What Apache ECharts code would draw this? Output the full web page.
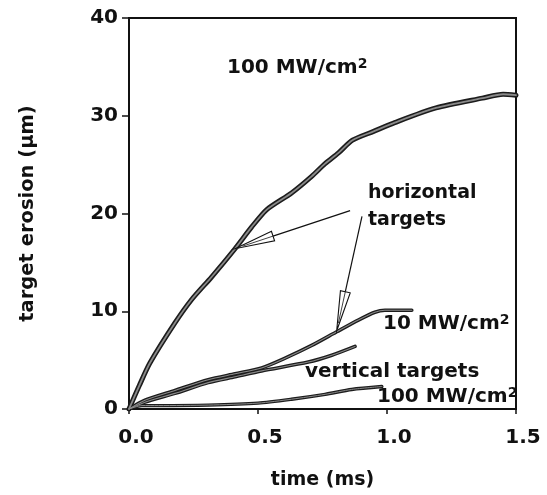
<!DOCTYPE html>
<html>
<head>
<meta charset="utf-8">
<script src="https://cdn.jsdelivr.net/npm/echarts@6/dist/echarts.min.js"></script>
<style>
  html, body { margin: 0; padding: 0; background: #fff; }
  #chart { width: 547px; height: 495px; }
</style>
</head>
<body>
<div id="chart"></div>
<script>
// Erosion depth versus time for horizontal and vertical targets
const xTicks = [0, 0.5, 1.0, 1.5];
const yTicks = [0, 10, 20, 30, 40];

// horizontal targets, 100 MW/cm2
const horiz100T = [0, 0.04, 0.081, 0.178, 0.243, 0.32, 0.411, 0.475, 0.534, 0.63, 0.708, 0.76, 0.812, 0.866, 0.948, 1.03, 1.19, 1.37, 1.45, 1.5];
const horiz100V = [0, 2.4, 4.7, 8.8, 11.2, 13.5, 16.4, 18.6, 20.4, 22.1, 23.8, 25.1, 26.2, 27.5, 28.4, 29.3, 30.8, 31.8, 32.2, 32.1];

// horizontal targets, 10 MW/cm2
const horiz10T = [0, 0.062, 0.178, 0.307, 0.411, 0.514, 0.605, 0.708, 0.805, 0.889, 0.953, 0.992, 1.096];
const horiz10V = [0, 0.9, 1.9, 3.0, 3.6, 4.2, 5.2, 6.5, 7.9, 9.1, 9.9, 10.1, 10.1];

// vertical targets, 10 MW/cm2
const vert10T = [0, 0.062, 0.178, 0.307, 0.411, 0.514, 0.695, 0.786, 0.876];
const vert10V = [0, 0.7, 1.6, 2.7, 3.3, 3.9, 4.8, 5.5, 6.4];

// vertical targets, 100 MW/cm2
const vert100T = [0, 0.05, 0.114, 0.307, 0.5, 0.63, 0.76, 0.863, 0.98];
const vert100V = [0, 0.35, 0.35, 0.4, 0.6, 1.0, 1.5, 2.0, 2.3];

// annotation arrows: [tailT, tailV, tipT, tipV]
const arrows = [
  [0.857, 20.3, 0.411, 16.4],
  [0.903, 19.7, 0.805, 8.0]
];

const FONT = 'DejaVu Sans';
const pairs = (t, v) => t.map((x, i) => [x, v[i]]);

function curve(t, v, outer, inner) {
  const d = pairs(t, v);
  return [
    { type: 'line', data: d, symbol: 'none', smooth: 0.25, silent: true,
      lineStyle: { color: '#1c1c1c', width: outer, cap: 'round', join: 'round' }, z: 3 },
    { type: 'line', data: d, symbol: 'none', smooth: 0.25, silent: true,
      lineStyle: { color: '#8a8a8a', width: inner, cap: 'round', join: 'round' }, z: 4 }
  ];
}

function arrowItem(params, api) {
  const p0 = api.coord([api.value(0), api.value(1)]);
  const p1 = api.coord([api.value(2), api.value(3)]);
  const dx = p1[0] - p0[0], dy = p1[1] - p0[1];
  const len = Math.sqrt(dx * dx + dy * dy);
  const ux = dx / len, uy = dy / len;
  const headLen = 40, half = 5;
  const bx = p1[0] - ux * headLen, by = p1[1] - uy * headLen;
  const px = -uy * half, py = ux * half;
  return {
    type: 'group',
    children: [
      { type: 'line', shape: { x1: p0[0], y1: p0[1], x2: bx, y2: by },
        style: { stroke: '#111', lineWidth: 1.2 } },
      { type: 'polygon', shape: { points: [[p1[0], p1[1]], [bx + px, by + py], [bx - px, by - py]] },
        style: { fill: '#fff', stroke: '#111', lineWidth: 1.1 } },
      { type: 'line', shape: { x1: bx, y1: by, x2: p1[0] - ux * 8, y2: p1[1] - uy * 8 },
        style: { stroke: '#111', lineWidth: 0.8 } }
    ]
  };
}

const supRich = {
  a: { fontFamily: FONT, fontWeight: 'bold', fontSize: 20, color: '#111', lineHeight: 22 },
  s: { fontFamily: FONT, fontWeight: 'bold', fontSize: 14, color: '#111', lineHeight: 22, verticalAlign: 'top' }
};

function label(x, y, text, size) {
  return {
    type: 'text', left: x, top: y, z: 10,
    style: { text: text, rich: supRich, fill: '#111',
      font: 'bold ' + (size || 20) + 'px ' + FONT }
  };
}

const chart = echarts.init(document.getElementById('chart'), null, { renderer: 'canvas' });
chart.setOption({
  animation: false,
  backgroundColor: '#fff',
  grid: { left: 129, right: 31, top: 18, bottom: 86, show: true, borderColor: '#111', borderWidth: 2, backgroundColor: 'transparent' },
  xAxis: {
    type: 'value', min: xTicks[0], max: xTicks[xTicks.length - 1], interval: 0.5,
    name: 'time (ms)', nameLocation: 'middle', nameGap: 62,
    nameTextStyle: { fontFamily: FONT, fontWeight: 'bold', fontSize: 19, color: '#111' },
    axisLine: { lineStyle: { color: '#111', width: 2 } },
    axisTick: { inside: false, length: 5, lineStyle: { color: '#111', width: 1.5 } },
    splitLine: { show: false },
    axisLabel: { fontFamily: FONT, fontWeight: 'bold', fontSize: 20, color: '#111', margin: 19,
      padding: [0, 0, 0, 14], formatter: v => v.toFixed(1) }
  },
  yAxis: {
    type: 'value', min: yTicks[0], max: yTicks[yTicks.length - 1], interval: 10,
    name: 'target erosion (\u03bcm)', nameLocation: 'middle', nameGap: 91,
    nameTextStyle: { fontFamily: FONT, fontWeight: 'bold', fontSize: 19.5, color: '#111' },
    axisLine: { lineStyle: { color: '#111', width: 2 } },
    axisTick: { inside: false, length: 7, lineStyle: { color: '#111', width: 1.5 } },
    splitLine: { show: false },
    axisLabel: { fontFamily: FONT, fontWeight: 'bold', fontSize: 20, color: '#111', margin: 11 }
  },
  series: [
    ...curve(horiz100T, horiz100V, 5, 1.8),
    ...curve(horiz10T, horiz10V, 3.6, 1.1),
    ...curve(vert10T, vert10V, 3.6, 1.1),
    ...curve(vert100T, vert100V, 3.4, 1.0),
    { type: 'custom', data: arrows, renderItem: arrowItem, encode: { x: [0, 2], y: [1, 3] }, z: 6, silent: true }
  ],
  graphic: [
    label(227, 57, '{a|100 MW/cm}{s|2}'),
    label(368, 184, 'horizontal', 19),
    label(368, 211, 'targets', 19),
    label(383, 313, '{a|10 MW/cm}{s|2}'),
    label(305, 362, 'vertical targets'),
    label(377, 386, '{a|100 MW/cm}{s|2}')
  ]
});
</script>
</body>
</html>
